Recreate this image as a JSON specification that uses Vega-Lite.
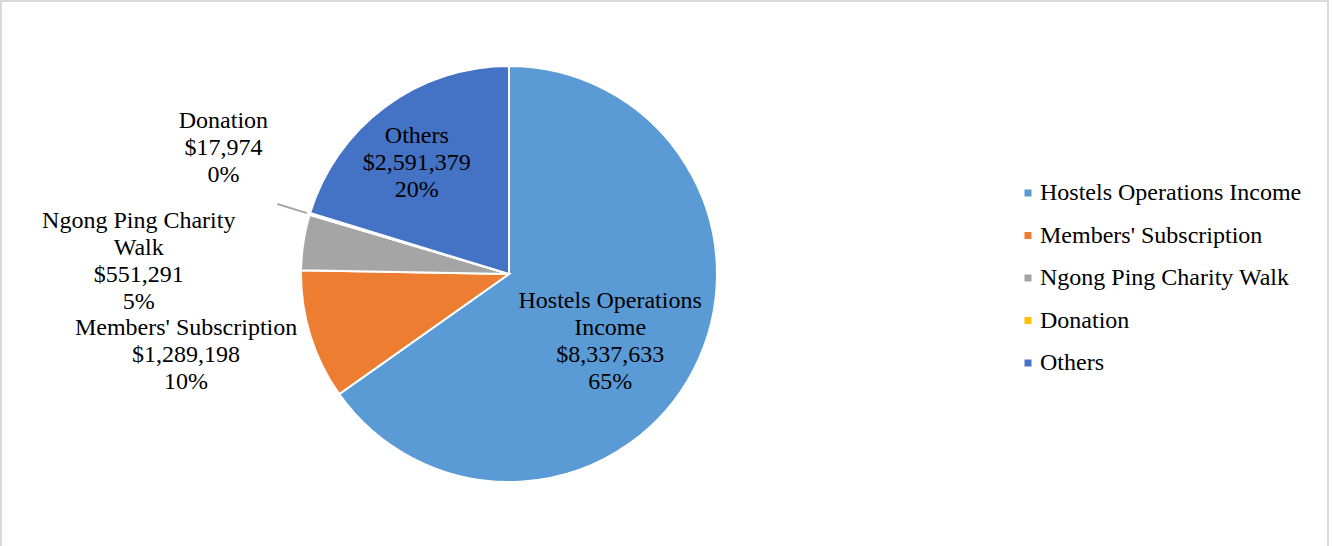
{
  "$schema": "https://vega.github.io/schema/vega-lite/v6.json",
  "background": "#d9d9d9",
  "padding": {"left": 2, "top": 2, "right": 2, "bottom": 0},
  "spacing": 0,
  "data": {"values": [
    {"category": "Hostels Operations Income", "value": 8337633, "idx": 1, "label": "Hostels Operations\nIncome\n$8,337,633\n65%"},
    {"category": "Members' Subscription", "value": 1289198, "idx": 2, "label": "Members' Subscription\n$1,289,198\n10%"},
    {"category": "Ngong Ping Charity Walk", "value": 551291, "idx": 3, "label": "Ngong Ping Charity\nWalk\n$551,291\n5%"},
    {"category": "Donation", "value": 17974, "idx": 4, "label": "Donation\n$17,974\n0%"},
    {"category": "Others", "value": 2591379, "idx": 5, "label": "Others\n$2,591,379\n20%"}
  ]},
  "resolve": {"legend": {"color": "independent"}},
  "hconcat": [
    {
      "width": 1014,
      "height": 544,
      "view": {"fill": "white", "stroke": null},
      "layer": [
        {
          "mark": {"type": "arc", "outerRadius": 208, "stroke": "white", "strokeWidth": 2},
          "encoding": {
            "theta": {"field": "value", "type": "quantitative", "stack": true},
            "order": {"field": "idx", "type": "quantitative"},
            "color": {
              "field": "category", "type": "nominal",
              "scale": {
                "domain": ["Hostels Operations Income", "Members' Subscription", "Ngong Ping Charity Walk", "Donation", "Others"],
                "range": ["#5B9BD5", "#ED7D31", "#A5A5A5", "#FFC000", "#4472C4"]
              },
              "legend": null
            }
          }
        },
        {
          "mark": {"type": "arc", "radius": 242, "radius2": 211, "color": "#a6a6a6"},
          "encoding": {
            "theta": {"field": "value", "type": "quantitative", "stack": true},
            "order": {"field": "idx", "type": "quantitative"},
            "opacity": {"condition": {"test": "datum.idx === 4", "value": 1}, "value": 0}
          }
        },
        {
          "mark": {"type": "text", "radius": 115, "dx": -1, "dy": -26, "lineBreak": "\n", "lineHeight": 27, "font": "Liberation Serif", "fontSize": 24, "align": "center", "baseline": "middle", "color": "#000000"},
          "encoding": {
            "theta": {"field": "value", "type": "quantitative", "stack": true},
            "order": {"field": "idx", "type": "quantitative"},
            "text": {"condition": {"test": "datum.idx === 1", "field": "label"}, "value": ""}
          }
        },
        {
          "mark": {"type": "text", "radius": 250, "dx": -84, "dy": -20, "lineBreak": "\n", "lineHeight": 27, "font": "Liberation Serif", "fontSize": 24, "align": "center", "baseline": "middle", "color": "#000000"},
          "encoding": {
            "theta": {"field": "value", "type": "quantitative", "stack": true},
            "order": {"field": "idx", "type": "quantitative"},
            "text": {"condition": {"test": "datum.idx === 2", "field": "label"}, "value": ""}
          }
        },
        {
          "mark": {"type": "text", "radius": 150, "dx": -222, "dy": -30, "lineBreak": "\n", "lineHeight": 27, "font": "Liberation Serif", "fontSize": 24, "align": "center", "baseline": "middle", "color": "#000000"},
          "encoding": {
            "theta": {"field": "value", "type": "quantitative", "stack": true},
            "order": {"field": "idx", "type": "quantitative"},
            "text": {"condition": {"test": "datum.idx === 3", "field": "label"}, "value": ""}
          }
        },
        {
          "mark": {"type": "text", "radius": 150, "dx": -142, "dy": -110, "lineBreak": "\n", "lineHeight": 27, "font": "Liberation Serif", "fontSize": 24, "align": "center", "baseline": "middle", "color": "#000000"},
          "encoding": {
            "theta": {"field": "value", "type": "quantitative", "stack": true},
            "order": {"field": "idx", "type": "quantitative"},
            "text": {"condition": {"test": "datum.idx === 4", "field": "label"}, "value": ""}
          }
        },
        {
          "mark": {"type": "text", "radius": 145, "dx": -6, "dy": -21, "lineBreak": "\n", "lineHeight": 27, "font": "Liberation Serif", "fontSize": 24, "align": "center", "baseline": "middle", "color": "#000000"},
          "encoding": {
            "theta": {"field": "value", "type": "quantitative", "stack": true},
            "order": {"field": "idx", "type": "quantitative"},
            "text": {"condition": {"test": "datum.idx === 5", "field": "label"}, "value": ""}
          }
        }
      ]
    },
    {
      "width": 311,
      "height": 544,
      "view": {"fill": "white", "stroke": null},
      "mark": {"type": "square", "opacity": 0},
      "encoding": {
        "color": {
          "field": "category", "type": "nominal",
          "scale": {
            "domain": ["Hostels Operations Income", "Members' Subscription", "Ngong Ping Charity Walk", "Donation", "Others"],
            "range": ["#5B9BD5", "#ED7D31", "#A5A5A5", "#FFC000", "#4472C4"]
          },
          "legend": {
            "orient": "none", "legendX": 0, "legendY": 179, "title": null,
            "symbolType": "square", "symbolSize": 49, "symbolOpacity": 1, "symbolStrokeWidth": 0,
            "labelFont": "Liberation Serif", "labelFontSize": 24, "labelColor": "#000000", "labelLimit": 400,
            "rowPadding": 18.5, "labelOffset": 0, "padding": 0
          }
        }
      }
    }
  ],
  "config": {
    "view": {"stroke": null, "fill": "white"}
  }
}
